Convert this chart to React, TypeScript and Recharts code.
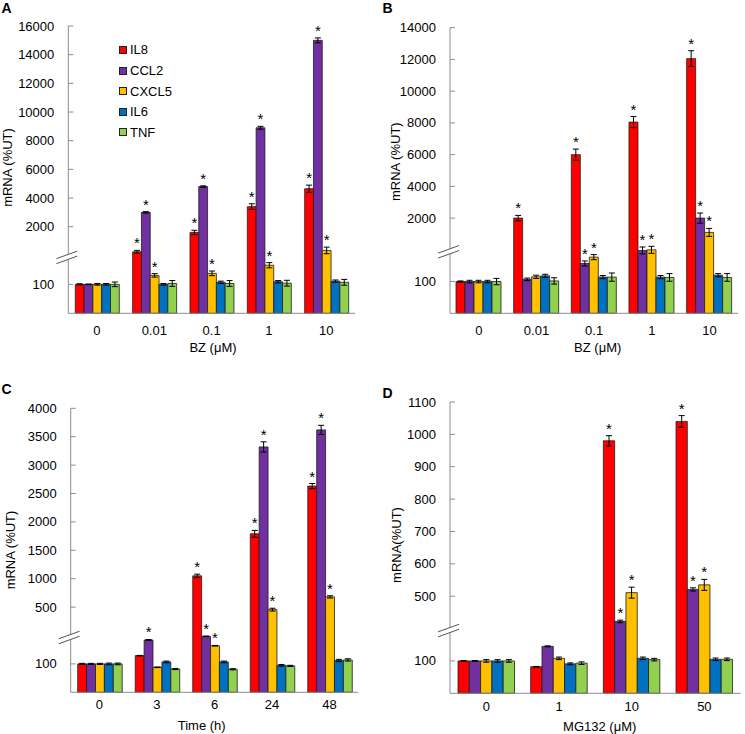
import React from "react";
import { BarChart, Bar, XAxis, YAxis, ErrorBar, LabelList, Legend } from "recharts";

const genes = ["IL8", "CCL2", "CXCL5", "IL6", "TNF"];
const geneColors = ["#ff0000", "#7030a0", "#ffc000", "#0070c0", "#92d050"];

// A: BZ dose (uM)
const aCats = ["0", "0.01", "0.1", "1", "10"];
const aIL8 = [100, 250, 1600, 3400, 4650];
const aIL8Err = [2, 100, 150, 200, 250];
const aCCL2 = [100, 3000, 4800, 8900, 15000];
const aCCL2Err = [1, 50, 50, 100, 170];
const aCXCL5 = [100, 131, 138, 166, 345];
const aCXCL5Err = [3, 6, 8, 9, 230];
const aIL6 = [100, 100, 107, 109, 111];
const aIL6Err = [3, 3, 4, 4, 4];
const aTNF = [100, 103, 103, 104, 107];
const aTNFErr = [8, 10, 10, 10, 10];
const aSig = [[], ["IL8", "CCL2", "CXCL5"], ["IL8", "CCL2", "CXCL5"], ["IL8", "CCL2", "CXCL5"], ["IL8", "CCL2", "CXCL5"]];
const aTicks = [100, 2000, 4000, 6000, 8000, 10000, 12000, 14000, 16000];

// B: BZ dose (uM)
const bCats = ["0", "0.01", "0.1", "1", "10"];
const bIL8 = [100, 2000, 6000, 8050, 12050];
const bIL8Err = [2, 170, 350, 350, 500];
const bCCL2 = [100, 107, 157, 198, 2000];
const bCCL2Err = [4, 4, 8, 11, 320];
const bCXCL5 = [100, 115, 177, 200, 1100];
const bCXCL5Err = [4, 5, 8, 11, 250];
const bIL6 = [100, 118, 114, 114, 120];
const bIL6Err = [4, 5, 5, 5, 5];
const bTNF = [100, 102, 114, 113, 113];
const bTNFErr = [10, 10, 13, 12, 12];
const bSig = [[], ["IL8"], ["IL8", "CCL2", "CXCL5"], ["IL8", "CCL2", "CXCL5"], ["IL8", "CCL2", "CXCL5"]];
const bTicks = [100, 2000, 4000, 6000, 8000, 10000, 12000, 14000];

// C: time (h)
const cCats = ["0", "3", "6", "24", "48"];
const cIL8 = [100, 129, 1050, 1790, 2630];
const cIL8Err = [2, 1, 30, 60, 45];
const cCCL2 = [100, 184, 197, 3320, 3620];
const cCCL2Err = [2, 2, 1, 90, 80];
const cCXCL5 = [100, 88, 164, 455, 680];
const cCXCL5Err = [2, 1, 1, 25, 20];
const cIL6 = [100, 107, 107, 95, 112];
const cIL6Err = [3, 3, 3, 3, 4];
const cTNF = [100, 82, 81, 93, 114];
const cTNFErr = [3, 2, 2, 2, 4];
const cSig = [[], ["CCL2"], ["IL8", "CCL2", "CXCL5"], ["IL8", "CCL2", "CXCL5"], ["IL8", "CCL2", "CXCL5"]];
const cTicks = [100, 500, 1000, 1500, 2000, 2500, 3000, 3500, 4000];

// D: MG132 dose (uM)
const dCats = ["0", "1", "10", "50"];
const dIL8 = [100, 82, 980, 1040];
const dIL8Err = [1, 1, 16, 18];
const dCCL2 = [100, 145, 422, 521];
const dCCL2Err = [1, 1.5, 4, 5];
const dCXCL5 = [100, 108, 511, 535];
const dCXCL5Err = [4, 4, 17, 17];
const dIL6 = [100, 91, 108, 105];
const dIL6Err = [4, 3, 4, 4];
const dTNF = [100, 93, 104, 105];
const dTNFErr = [4, 4, 4, 4];
const dSig = [[], [], ["IL8", "CCL2", "CXCL5"], ["IL8", "CCL2", "CXCL5"]];
const dTicks = [100, 500, 600, 700, 800, 900, 1000, 1100];

// broken axis: values up to brk drawn 1:1, above it on a compressed upper scale
type Brk = { brk: number; base: number; s: number };
const toDisp = (v: number, k: Brk) => (v <= k.brk ? v : k.brk + (v - k.base) * k.s);
const errDisp = (v: number, e: number, k: Brk) => (v <= k.brk ? e : e * k.s);

function buildRows(cats: string[], vals: number[][], errs: number[][], sig: string[][], k: Brk) {
  return cats.map((cat, i) => {
    const row: any = { cat };
    genes.forEach((g, j) => {
      const v = vals[j][i];
      const e = errDisp(v, errs[j][i], k);
      row[g] = toDisp(v, k);
      row[g + "_e"] = e;
      row[g + "_s"] = sig[i].includes(g) ? e : -1;
    });
    return row;
  });
}

const AXIS = "#8c8c8c";
const FONT = "'Liberation Sans', Arial, sans-serif";

function AxisTitle(props: any) {
  const { tx, ty, text, rotate } = props;
  return (
    <text
      x={tx}
      y={ty}
      dy="0.35em"
      textAnchor="middle"
      fontSize={13}
      fill="#000"
      transform={rotate ? `rotate(-90 ${tx} ${ty})` : undefined}
    >
      {text}
    </text>
  );
}

function LegendBox() {
  return (
    <div style={{ fontSize: 13, color: "#000" }}>
      {genes.map((g, i) => (
        <div key={g} style={{ display: "flex", alignItems: "center", height: 20.6 }}>
          <span
            style={{
              width: 8,
              height: 8,
              background: geneColors[i],
              border: "1px solid #222",
              boxSizing: "border-box",
              marginRight: 3,
            }}
          />
          {g}
        </div>
      ))}
    </div>
  );
}

type PanelProps = {
  letter: string;
  left: number;
  top: number;
  width: number;
  height: number;
  mTop: number;
  mRight: number;
  yW: number;
  xH: number;
  tickOff: number;
  xLabel: string;
  xLabelX: number;
  xLabelOff: number;
  yLabel: string;
  yLabelX: number;
  yLabelY: number;
  rows: any[];
  ticks: number[];
  k: Brk;
  barSize: number;
  legend?: boolean;
};

function Panel(p: PanelProps) {
  const domTop = toDisp(p.ticks[p.ticks.length - 1], p.k);
  const plotH = p.height - p.mTop - p.xH;
  const pxPerD = plotH / domTop;
  const axisY = p.mTop + plotH;
  const dispTicks = [p.ticks[0], p.k.brk, ...p.ticks.slice(1)].map((t, i) => (i === 1 ? t : toDisp(t, p.k)));
  const labelOf = new Map<number, string>();
  p.ticks.forEach((t) => labelOf.set(toDisp(t, p.k), String(t)));

  const yTick = (t: any) => {
    const { x, y, payload } = t;
    if (payload.value === p.k.brk) {
      const cy = y + 2;
      return (
        <g>
          <polygon points={`${x - 12},${cy + 1.3} ${x + 9},${cy - 6.3} ${x + 9},${cy - 1.3} ${x - 12},${cy + 6.3}`} fill="#fff" />
          <line x1={x - 12} y1={cy + 1.3} x2={x + 9} y2={cy - 6.3} stroke="#555" strokeWidth={1} />
          <line x1={x - 12} y1={cy + 6.3} x2={x + 9} y2={cy - 1.3} stroke="#555" strokeWidth={1} />
        </g>
      );
    }
    return (
      <g>
        <line x1={x} y1={y} x2={x + 5} y2={y} stroke={AXIS} strokeWidth={1} />
        <text x={x - 14} y={y} dy="0.35em" textAnchor="end" fontSize={13} fill="#000">
          {labelOf.get(payload.value) ?? ""}
        </text>
      </g>
    );
  };

  const xTick = (t: any) => (
    <text x={t.x} y={t.y + p.tickOff} dy="0.35em" textAnchor="middle" fontSize={13} fill="#000">
      {t.payload.value}
    </text>
  );

  const star = (s: any) => {
    const v = Number(s.value);
    if (!(v >= 0)) return null;
    const vb = s.viewBox ?? s;
    const bx = vb.x ?? s.x;
    const bw = vb.width ?? s.width;
    const by = vb.y ?? s.y;
    const bh = vb.height ?? s.height ?? 0;
    const barTop = Math.min(by, by + bh);
    return (
      <text x={bx + bw / 2} y={barTop - v * pxPerD - 2} textAnchor="middle" fontSize={15} fill="#000">
        *
      </text>
    );
  };

  return (
    <div style={{ position: "absolute", left: p.left, top: p.top }}>
      <BarChart
        width={p.width}
        height={p.height}
        data={p.rows}
        margin={{ top: p.mTop, right: p.mRight, bottom: 0, left: 0 }}
        barGap={0}
      >
        <XAxis
          dataKey="cat"
          height={p.xH}
          axisLine={{ stroke: AXIS }}
          tickLine={false}
          tickSize={0}
          tickMargin={0}
          interval={0}
          tick={xTick}
          label={<AxisTitle tx={p.xLabelX} ty={axisY + p.xLabelOff} text={p.xLabel} />}
        />
        <YAxis
          width={p.yW}
          domain={[0, domTop]}
          ticks={dispTicks}
          interval={0}
          axisLine={{ stroke: AXIS }}
          tickLine={false}
          tickSize={0}
          tickMargin={0}
          tick={yTick}
          label={<AxisTitle tx={p.yLabelX} ty={p.yLabelY} text={p.yLabel} rotate />}
        />
        {p.legend && (
          <Legend
            layout="vertical"
            align="center"
            verticalAlign="middle"
            content={() => <LegendBox />}
            wrapperStyle={{ left: 119, top: 39.7, width: 80, height: 104 }}
          />
        )}
        {genes.map((g, i) => (
          <Bar
            key={g}
            dataKey={g}
            fill={geneColors[i]}
            stroke="#1e1e1e"
            strokeWidth={0.8}
            barSize={p.barSize}
            isAnimationActive={false}
            legendType="square"
          >
            <ErrorBar dataKey={g + "_e"} width={3} stroke="#000" strokeWidth={1} isAnimationActive={false} />
            <LabelList dataKey={g + "_s"} content={star} />
          </Bar>
        ))}
      </BarChart>
      <div
        style={{
          position: "absolute",
          left: p.letter === "A" || p.letter === "C" ? 1.5 : 12.5,
          top: p.letter === "C" ? 17 : p.letter === "D" ? 20.5 : 1,
          fontWeight: "bold",
          fontSize: 14,
          lineHeight: "14px",
        }}
      >
        {p.letter}
      </div>
    </div>
  );
}

const kA: Brk = { brk: 200, base: 0, s: 0.0495 };
const kB: Brk = { brk: 200, base: 0, s: 0.05 };
const kC: Brk = { brk: 200, base: 0, s: 0.2 };
const kD: Brk = { brk: 200, base: 400, s: 1 };

const rowsA = buildRows(aCats, [aIL8, aCCL2, aCXCL5, aIL6, aTNF], [aIL8Err, aCCL2Err, aCXCL5Err, aIL6Err, aTNFErr], aSig, kA);
const rowsB = buildRows(bCats, [bIL8, bCCL2, bCXCL5, bIL6, bTNF], [bIL8Err, bCCL2Err, bCXCL5Err, bIL6Err, bTNFErr], bSig, kB);
const rowsC = buildRows(cCats, [cIL8, cCCL2, cCXCL5, cIL6, cTNF], [cIL8Err, cCCL2Err, cCXCL5Err, cIL6Err, cTNFErr], cSig, kC);
const rowsD = buildRows(dCats, [dIL8, dCCL2, dCXCL5, dIL6, dTNF], [dIL8Err, dCCL2Err, dCXCL5Err, dIL6Err, dTNFErr], dSig, kD);

export default function App() {
  return (
    <div style={{ position: "absolute", left: 0, top: 0, width: 745, height: 734, background: "#fff", fontFamily: FONT }}>
      <Panel
        letter="A" left={0} top={0} width={370} height={365}
        mTop={26} mRight={15} yW={68.3} xH={51.7} tickOff={16.7}
        xLabel="BZ (μM)" xLabelX={213} xLabelOff={34.4}
        yLabel="mRNA (%UT)" yLabelX={7.3} yLabelY={167.5}
        rows={rowsA} ticks={aTicks} k={kA} barSize={8.8} legend
      />
      <Panel
        letter="B" left={370} top={0} width={375} height={365}
        mTop={27.7} mRight={6.7} yW={80} xH={51.7} tickOff={16.7}
        xLabel="BZ (μM)" xLabelX={227.7} xLabelOff={34.4}
        yLabel="mRNA (%UT)" yLabelX={25} yLabelY={161.7}
        rows={rowsB} ticks={bTicks} k={kB} barSize={9}
      />
      <Panel
        letter="C" left={0} top={365} width={370} height={369}
        mTop={43.3} mRight={11.7} yW={70.7} xH={41.7} tickOff={12}
        xLabel="Time (h)" xLabelX={201.7} xLabelOff={33.4}
        yLabel="mRNA (%UT)" yLabelX={10} yLabelY={185}
        rows={rowsC} ticks={cTicks} k={kC} barSize={8.9}
      />
      <Panel
        letter="D" left={370} top={365} width={375} height={369}
        mTop={37} mRight={4.3} yW={80} xH={40.7} tickOff={13.4}
        xLabel="MG132 (μM)" xLabelX={229.7} xLabelOff={32.7}
        yLabel="mRNA(%UT)" yLabelX={26} yLabelY={180}
        rows={rowsD} ticks={dTicks} k={kD} barSize={11.3}
      />
    </div>
  );
}
